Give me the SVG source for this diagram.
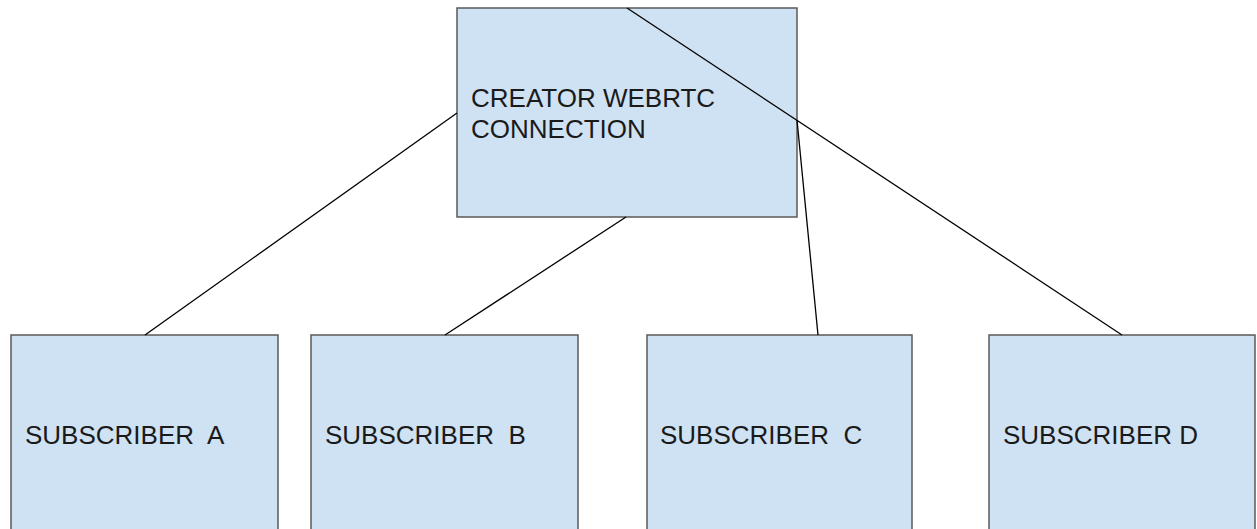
<svg xmlns="http://www.w3.org/2000/svg" width="1257" height="529" viewBox="0 0 1257 529">
<style>
.box{fill:#cfe2f3;stroke:#595959;stroke-width:1.5}
.lbl{font-family:"Liberation Sans",Arial,sans-serif;font-size:26px;fill:#1a1a1a}
.conn{stroke:#000;stroke-width:1.3;fill:none}
</style>
<rect width="1257" height="529" fill="#fff"/>
<g id="creator">
<rect class="box" x="457" y="8" width="340" height="209"/>
<text class="lbl" x="471" y="107">CREATOR WEBRTC</text>
<text class="lbl" x="471" y="138">CONNECTION</text>
</g>
<g id="subA">
<rect class="box" x="11" y="335" width="267" height="210"/>
<text class="lbl" x="25" y="444" xml:space="preserve">SUBSCRIBER  A</text>
</g>
<g id="subB">
<rect class="box" x="311" y="335" width="267" height="210"/>
<text class="lbl" x="325" y="444" xml:space="preserve">SUBSCRIBER  B</text>
</g>
<g id="subC">
<rect class="box" x="647" y="335" width="265" height="210"/>
<text class="lbl" x="660" y="444" xml:space="preserve">SUBSCRIBER  C</text>
</g>
<g id="subD">
<rect class="box" x="989" y="335" width="266" height="210"/>
<text class="lbl" x="1003" y="444">SUBSCRIBER D</text>
</g>
<g id="connectors">
<line class="conn" x1="457" y1="113" x2="145" y2="335"/>
<line class="conn" x1="626" y1="217" x2="445" y2="335"/>
<line class="conn" x1="627" y1="8" x2="1122" y2="335"/>
<line class="conn" x1="797" y1="120" x2="818" y2="335"/>
</g>
</svg>
